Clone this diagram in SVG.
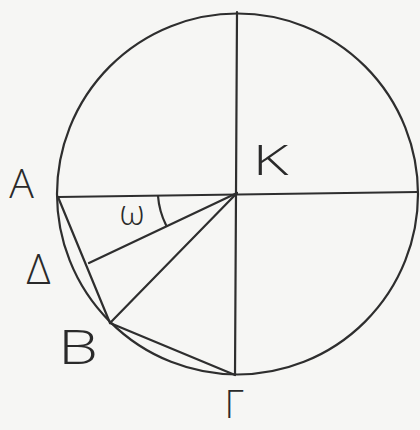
<svg xmlns="http://www.w3.org/2000/svg" width="420" height="430" viewBox="0 0 420 430">
<style>
.ln{stroke:#2e2e2e;stroke-width:2.2;fill:none;stroke-linecap:round}
.lb{font-family:"Open Sans","Liberation Sans",sans-serif;font-weight:300;fill:#2a2a2a;text-anchor:middle}
</style>
<rect width="420" height="430" fill="#f6f6f4"/>
<g id="figure">
<circle class="ln" cx="237.5" cy="194" r="180.5"/>
<line class="ln" x1="58" y1="197" x2="418" y2="192"/>
<line class="ln" x1="237" y1="12" x2="235" y2="375"/>
<line class="ln" x1="58" y1="197" x2="110" y2="323"/>
<line class="ln" x1="110" y1="323" x2="235" y2="375"/>
<line class="ln" x1="237" y1="193" x2="89" y2="263"/>
<line class="ln" x1="237" y1="193" x2="110" y2="323"/>
<path class="ln" d="M158 196 A79 79 0 0 0 166 225"/>
</g>
<g id="labels">
<text class="lb" x="21.5" y="198" font-size="41">A</text>
<text class="lb" x="270.5" y="175" font-size="42" textLength="36" lengthAdjust="spacingAndGlyphs">K</text>
<text class="lb" x="38.5" y="284" font-size="42">Δ</text>
<text class="lb" x="78" y="364" font-size="48" textLength="40" lengthAdjust="spacingAndGlyphs">B</text>
<text class="lb" x="234" y="418" font-size="38">Γ</text>
<text class="lb" x="132" y="225" font-size="34">ω</text>
</g>
</svg>
